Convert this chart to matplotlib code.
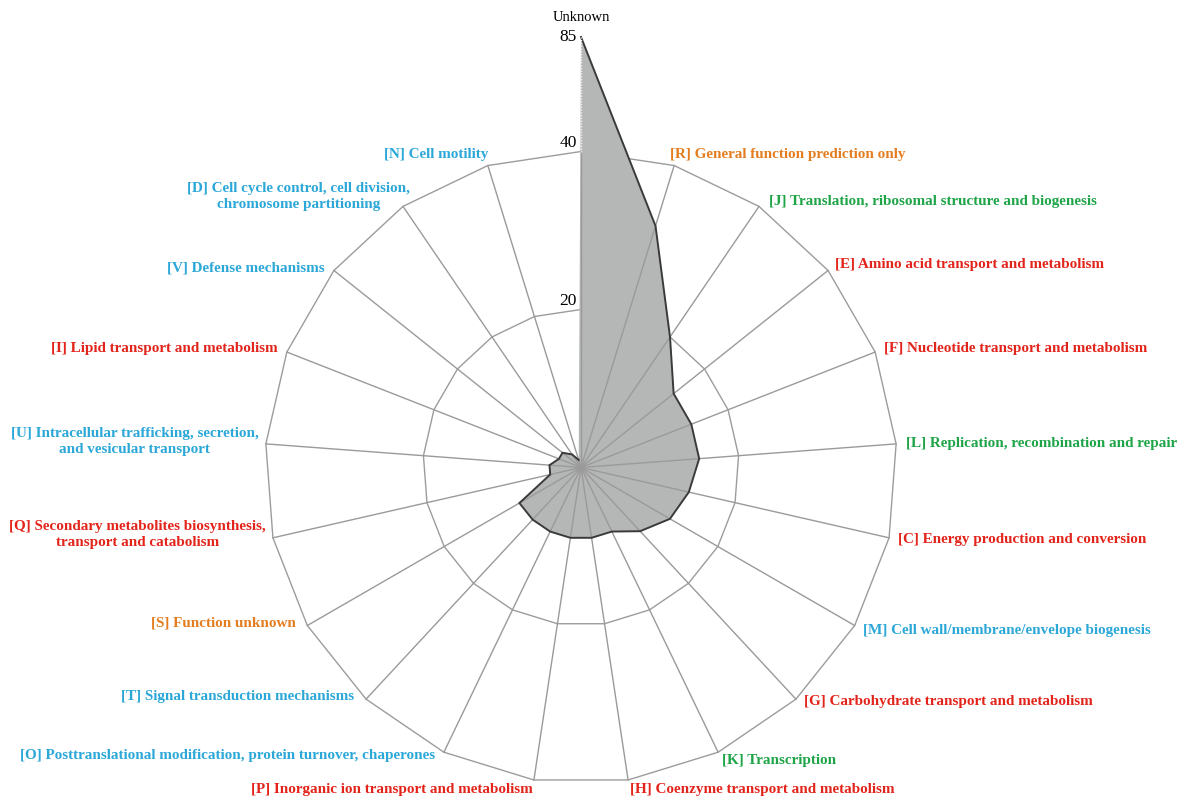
import numpy as np
import matplotlib
matplotlib.use("Agg")
import matplotlib.pyplot as plt

# COG categories, clockwise from the top
codes = ["Unknown", "R", "J", "E", "F", "L", "C", "M", "G", "K", "H",
         "P", "O", "T", "S", "Q", "U", "I", "V", "D", "N"]
names = [
    "Unknown",
    "General function prediction only",
    "Translation, ribosomal structure and biogenesis",
    "Amino acid transport and metabolism",
    "Nucleotide transport and metabolism",
    "Replication, recombination and repair",
    "Energy production and conversion",
    "Cell wall/membrane/envelope biogenesis",
    "Carbohydrate transport and metabolism",
    "Transcription",
    "Coenzyme transport and metabolism",
    "Inorganic ion transport and metabolism",
    "Posttranslational modification, protein turnover, chaperones",
    "Signal transduction mechanisms",
    "Function unknown",
    "Secondary metabolites biosynthesis,\ntransport and catabolism",
    "Intracellular trafficking, secretion,\nand vesicular transport",
    "Lipid transport and metabolism",
    "Defense mechanisms",
    "Cell cycle control, cell division,\nchromosome partitioning",
    "Cell motility",
]
counts = [85, 32, 20, 15, 15, 15, 14, 13, 11, 9, 9, 9, 9, 9, 9, 4, 4, 3, 3, 2, 1]
groups = ["none", "poor", "info", "metab", "metab", "info", "metab", "cell",
          "metab", "info", "metab", "metab", "cell", "cell", "poor", "metab",
          "cell", "metab", "cell", "cell", "cell"]
rings = [20, 40]
axis_max = 40

group_colors = {
    "info": "#1fa548",
    "metab": "#e3241b",
    "cell": "#2ba7d8",
    "poor": "#e47d1f",
    "none": "black",
}

# values above the outer ring are squeezed (broken axis)
BREAK_FACTOR = 0.322


def radial(v):
    return v if v <= axis_max else axis_max + (v - axis_max) * BREAK_FACTOR


n = len(codes)
theta = np.deg2rad(90 - np.arange(n) * 360.0 / n)
cos_t, sin_t = np.cos(theta), np.sin(theta)

px = 7.9  # pixels per unit
W, H = 1182, 802
cx, cy = 581, 467.5

# hand nudges for a few labels (pixels, x right / y up)
nudge = {"R": (-7, 2), "J": (5, -3), "G": (2, 5), "O": (-5, 5), "T": (-5, 10),
         "S": (-3, 7), "Q": (2, 5), "U": (2, 2), "V": (-2, -3), "D": (12, 2),
         "N": (3, 2)}

fig = plt.figure(figsize=(W / 100, H / 100), dpi=100)
ax = fig.add_axes([0, 0, 1, 1])
ax.set_xlim(-cx / px, (W - cx) / px)
ax.set_ylim(-(H - cy) / px, cy / px)
ax.axis("off")

serif = "Liberation Serif"

# polygon rings
for r in rings:
    xs = np.append(r * cos_t, r * cos_t[0])
    ys = np.append(r * sin_t, r * sin_t[0])
    ax.plot(xs, ys, color="#9c9c9c", lw=1.0, zorder=1)

# data polygon
rr = np.array([radial(v) for v in counts])
px_pts = rr * cos_t
py_pts = rr * sin_t
ax.fill(px_pts, py_pts, color="#b5b7b6", lw=0, zorder=2)

# spokes
for c, s in zip(cos_t, sin_t):
    ax.plot([0, axis_max * c], [0, axis_max * s], color="#9a9a9a", lw=1.0, zorder=3)

# outline (open on the Unknown spoke)
ax.plot(px_pts, py_pts, color="#3a3a3a", lw=1.4, zorder=4, solid_joinstyle="miter")

# broken part of the Unknown axis
top = radial(counts[0])
ax.plot([0, 0], [axis_max, top], color="#eeeeee", lw=1.0, ls=(0, (1, 1)), zorder=5)

# axis value labels
for r in rings:
    ax.text(-0.5, r + 0.05, str(r), ha="right", va="bottom", fontsize=12.5,
            family=serif, zorder=6)
ax.text(-0.5, top, str(counts[0]), ha="right", va="center", fontsize=12.5,
        family=serif, zorder=6)
ax.text(0, top + 2.5, names[0], ha="center", va="center", fontsize=10.5,
        family=serif)

# category labels
lab_r = 41.2
for i in range(1, n):
    c, s = cos_t[i], sin_t[i]
    dx, dy = nudge.get(codes[i], (0, 0))
    ha = "left" if c > 0 else "right"
    ax.text(lab_r * c + dx / px, lab_r * s + dy / px,
            "[%s] %s" % (codes[i], names[i]),
            ha=ha, va="center", multialignment="center",
            fontsize=10.9, fontweight="bold", family=serif,
            color=group_colors[groups[i]], linespacing=1.3)

fig.savefig("out.png", dpi=100, facecolor="white")
plt.close()
